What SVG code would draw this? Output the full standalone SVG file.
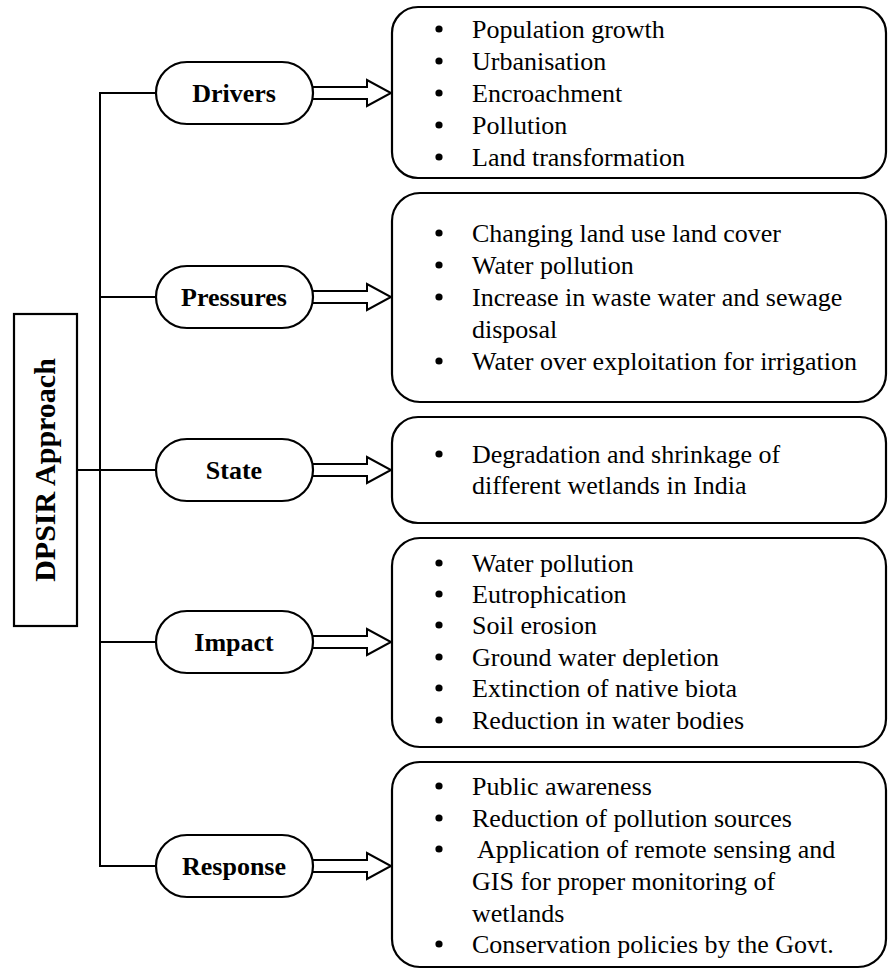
<svg xmlns="http://www.w3.org/2000/svg" width="889" height="969" viewBox="0 0 889 969">
<style>
.bg{fill:#fff}
.box{fill:#fff;stroke:#000;stroke-width:2.2}
.pill{fill:#fff;stroke:#000;stroke-width:2.2}
.arr{fill:#fff;stroke:#000;stroke-width:2;stroke-linejoin:miter}
.ln{fill:none;stroke:#000;stroke-width:2}
.t{font-family:"Liberation Serif","Times New Roman",serif;font-size:26px;fill:#000}
.lb{font-family:"Liberation Serif","Times New Roman",serif;font-size:26px;font-weight:bold;fill:#000;text-anchor:middle}
.ttl{font-family:"Liberation Serif","Times New Roman",serif;font-size:30px;font-weight:bold;fill:#000;text-anchor:middle}
</style>
<defs>
<circle id="dot" r="3.6" fill="#000"/>
</defs>
<rect class="bg" x="0" y="0" width="889" height="969"/>

<g id="connectors">
<line class="ln" x1="100" y1="92" x2="100" y2="867"/>
<line class="ln" x1="99" y1="93" x2="160" y2="93"/>
<line class="ln" x1="99" y1="297" x2="160" y2="297"/>
<line class="ln" x1="77" y1="470" x2="160" y2="470"/>
<line class="ln" x1="99" y1="642" x2="160" y2="642"/>
<line class="ln" x1="99" y1="866" x2="160" y2="866"/>
<polygon class="arr" points="305,87 367,87 367,80 391,93 367,106 367,99 305,99"/>
<polygon class="arr" points="305,291 367,291 367,284 391,297 367,310 367,303 305,303"/>
<polygon class="arr" points="305,464 367,464 367,457 391,470 367,483 367,476 305,476"/>
<polygon class="arr" points="305,636 367,636 367,629 391,642 367,655 367,648 305,648"/>
<polygon class="arr" points="305,860 367,860 367,853 391,866 367,879 367,872 305,872"/>
</g>

<g id="dpsir">
<rect class="box" x="14" y="314" width="63" height="312"/>
<text class="ttl" transform="translate(55,470) rotate(-90)">DPSIR Approach</text>
</g>

<g id="drivers">
<rect class="pill" x="156" y="62" width="157" height="62" rx="31" ry="31"/>
<text class="lb" x="234" y="102">Drivers</text>
</g>
<g id="pressures">
<rect class="pill" x="156" y="266" width="157" height="62" rx="31" ry="31"/>
<text class="lb" x="234" y="306">Pressures</text>
</g>
<g id="state">
<rect class="pill" x="156" y="439" width="157" height="62" rx="31" ry="31"/>
<text class="lb" x="234" y="479">State</text>
</g>
<g id="impact">
<rect class="pill" x="156" y="611" width="157" height="62" rx="31" ry="31"/>
<text class="lb" x="234" y="651">Impact</text>
</g>
<g id="response">
<rect class="pill" x="156" y="835" width="157" height="62" rx="31" ry="31"/>
<text class="lb" x="234" y="875">Response</text>
</g>

<g id="drivers-list">
<rect class="box" x="392" y="7" width="494" height="171" rx="26" ry="26"/>
<use href="#dot" x="439" y="29"/>
<use href="#dot" x="439" y="61"/>
<use href="#dot" x="439" y="93"/>
<use href="#dot" x="439" y="125"/>
<use href="#dot" x="439" y="157"/>
<text class="t" x="472" y="38">Population growth</text>
<text class="t" x="472" y="70">Urbanisation</text>
<text class="t" x="472" y="102">Encroachment</text>
<text class="t" x="472" y="134">Pollution</text>
<text class="t" x="472" y="166">Land transformation</text>
</g>

<g id="pressures-list">
<rect class="box" x="392" y="193" width="494" height="209" rx="28" ry="28"/>
<use href="#dot" x="439" y="233"/>
<use href="#dot" x="439" y="265"/>
<use href="#dot" x="439" y="297"/>
<use href="#dot" x="439" y="361"/>
<text class="t" x="472" y="242">Changing land use land cover</text>
<text class="t" x="472" y="274">Water pollution</text>
<text class="t" x="472" y="306">Increase in waste water and sewage</text>
<text class="t" x="472" y="338">disposal</text>
<text class="t" x="472" y="370">Water over exploitation for irrigation</text>
</g>

<g id="state-list">
<rect class="box" x="392" y="417" width="494" height="106" rx="26" ry="26"/>
<use href="#dot" x="439" y="454"/>
<text class="t" x="472" y="463">Degradation and shrinkage of</text>
<text class="t" x="472" y="494">different wetlands in India</text>
</g>

<g id="impact-list">
<rect class="box" x="392" y="538" width="494" height="209" rx="28" ry="28"/>
<use href="#dot" x="439" y="563"/>
<use href="#dot" x="439" y="594"/>
<use href="#dot" x="439" y="625"/>
<use href="#dot" x="439" y="657"/>
<use href="#dot" x="439" y="688"/>
<use href="#dot" x="439" y="720"/>
<text class="t" x="472" y="572">Water pollution</text>
<text class="t" x="472" y="603">Eutrophication</text>
<text class="t" x="472" y="634">Soil erosion</text>
<text class="t" x="472" y="666">Ground water depletion</text>
<text class="t" x="472" y="697">Extinction of native biota</text>
<text class="t" x="472" y="729">Reduction in water bodies</text>
</g>

<g id="response-list">
<rect class="box" x="392" y="762" width="494" height="205" rx="28" ry="28"/>
<use href="#dot" x="439" y="786"/>
<use href="#dot" x="439" y="818"/>
<use href="#dot" x="439" y="849"/>
<use href="#dot" x="439" y="944"/>
<text class="t" x="472" y="795">Public awareness</text>
<text class="t" x="472" y="827">Reduction of pollution sources</text>
<text class="t" x="472" y="858" xml:space="preserve"> Application of remote sensing and</text>
<text class="t" x="472" y="890">GIS for proper monitoring of</text>
<text class="t" x="472" y="922">wetlands</text>
<text class="t" x="472" y="953">Conservation policies by the Govt.</text>
</g>
</svg>
